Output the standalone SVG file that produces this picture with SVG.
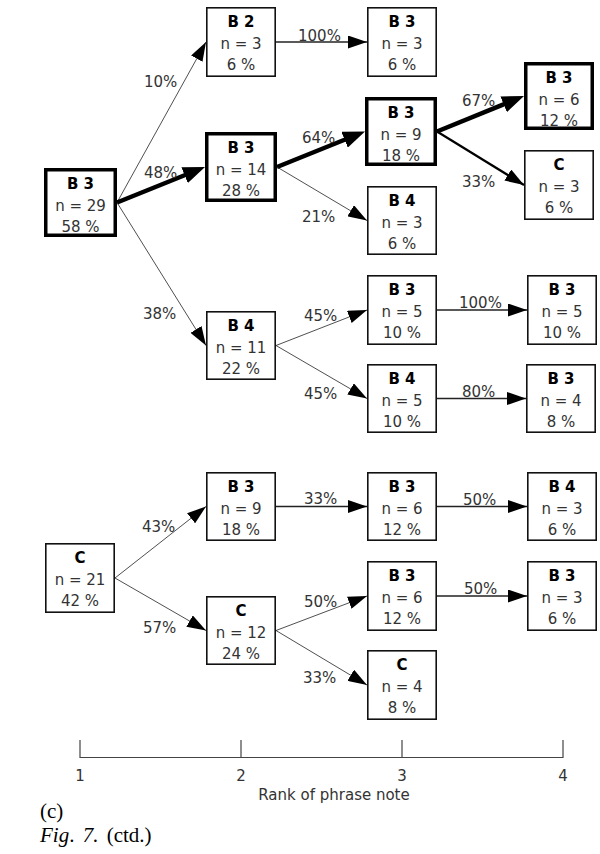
<svg xmlns="http://www.w3.org/2000/svg" width="600" height="854" viewBox="0 0 600 854">
<style>
.box{fill:#fff;stroke:#111;stroke-width:1.6}
.bold{fill:#fff;stroke:#000;stroke-width:3.5}
.t{font-family:"DejaVu Sans",sans-serif;font-size:15px;fill:#333;text-anchor:middle}
.h{font-family:"DejaVu Sans",sans-serif;font-size:15px;font-weight:bold;fill:#000;text-anchor:middle}
.l{font-family:"DejaVu Sans",sans-serif;font-size:15px;fill:#333}
.e{stroke:#222;stroke-width:0.8;fill:none;marker-end:url(#a)}
.eh{stroke:#222;stroke-width:1.3;fill:none;marker-end:url(#a)}
.em{stroke:#000;stroke-width:2.2;fill:none;marker-end:url(#a)}
.ek{stroke:#000;stroke-width:4.5;fill:none;marker-end:url(#b)}
.ax{stroke:#444;stroke-width:1.2;fill:none}
.cap{font-family:"Liberation Serif",serif;font-size:21px;fill:#000}
</style>
<defs>
<marker id="a" markerUnits="userSpaceOnUse" markerWidth="19" markerHeight="13" refX="19" refY="6.5" orient="auto"><path d="M0,0 L19,6.5 L0,13 z" fill="#000"/></marker>
<marker id="b" markerUnits="userSpaceOnUse" markerWidth="22" markerHeight="17" refX="12" refY="8.5" orient="auto"><path d="M0,0 L22,8.5 L0,17 z" fill="#000"/></marker>
</defs>
<g id="connectors">
<path class="e" d="M117,202.5 L206,42"/>
<path class="ek" d="M117,202.5 L195.73,170.74"/>
<path class="e" d="M117,202.5 L206,345.5"/>
<path class="eh" d="M276,42 L367,42"/>
<path class="ek" d="M277,167 L355.73,135.24"/>
<path class="e" d="M277,167 L367,220.5"/>
<path class="ek" d="M437,131.5 L514.74,99.78"/>
<path class="em" d="M437,131.5 L524,185"/>
<path class="e" d="M276,345.5 L367,310"/>
<path class="e" d="M276,345.5 L367,398.5"/>
<path class="eh" d="M437,310 L527,310"/>
<path class="eh" d="M437,398.5 L526,398.5"/>
<path class="e" d="M115,578 L206,506.5"/>
<path class="e" d="M115,578 L206,630.5"/>
<path class="eh" d="M276,506.5 L367,506.5"/>
<path class="e" d="M276,630.5 L367,596"/>
<path class="e" d="M276,630.5 L367,685"/>
<path class="eh" d="M437,506.5 L527,506.5"/>
<path class="eh" d="M437,596 L527,596"/>
</g>
<g id="edge-labels">
<text class="l" x="144" y="87">10%</text>
<text class="l" x="144" y="178">48%</text>
<text class="l" x="143" y="319">38%</text>
<text class="l" x="298" y="41">100%</text>
<text class="l" x="302" y="143">64%</text>
<text class="l" x="302" y="222">21%</text>
<text class="l" x="462" y="106">67%</text>
<text class="l" x="462" y="187">33%</text>
<text class="l" x="304" y="321">45%</text>
<text class="l" x="304" y="399">45%</text>
<text class="l" x="459" y="308">100%</text>
<text class="l" x="462" y="397">80%</text>
<text class="l" x="142" y="532">43%</text>
<text class="l" x="143" y="633">57%</text>
<text class="l" x="304" y="504">33%</text>
<text class="l" x="304" y="607">50%</text>
<text class="l" x="303" y="683">33%</text>
<text class="l" x="463" y="505">50%</text>
<text class="l" x="464" y="594">50%</text>
</g>
<g id="n-root"><rect class="bold" x="45.75" y="169.75" width="69.5" height="65.5"/><text class="h" x="80.5" y="189">B 3</text><text class="t" x="80.5" y="211">n = 29</text><text class="t" x="80.5" y="232">58 %</text></g>
<g id="n-b2"><rect class="box" x="206.8" y="7.8" width="68.4" height="68.4"/><text class="h" x="241" y="27">B 2</text><text class="t" x="241" y="49">n = 3</text><text class="t" x="241" y="70">6 %</text></g>
<g id="n-b3a"><rect class="box" x="367.8" y="7.8" width="68.4" height="68.4"/><text class="h" x="402" y="27">B 3</text><text class="t" x="402" y="49">n = 3</text><text class="t" x="402" y="70">6 %</text></g>
<g id="n-b3b"><rect class="bold" x="206.75" y="133.75" width="68.5" height="66.5"/><text class="h" x="241" y="153">B 3</text><text class="t" x="241" y="175">n = 14</text><text class="t" x="241" y="196">28 %</text></g>
<g id="n-b3c"><rect class="bold" x="366.75" y="98.75" width="68.5" height="65.5"/><text class="h" x="401" y="118">B 3</text><text class="t" x="401" y="140">n = 9</text><text class="t" x="401" y="161">18 %</text></g>
<g id="n-b4a"><rect class="box" x="367.8" y="186.8" width="68.4" height="67.4"/><text class="h" x="402" y="206">B 4</text><text class="t" x="402" y="228">n = 3</text><text class="t" x="402" y="249">6 %</text></g>
<g id="n-b3d"><rect class="bold" x="525.75" y="63.75" width="66.5" height="64.5"/><text class="h" x="559" y="83">B 3</text><text class="t" x="559" y="105">n = 6</text><text class="t" x="559" y="126">12 %</text></g>
<g id="n-ca"><rect class="box" x="524.8" y="150.8" width="68.4" height="68.4"/><text class="h" x="559" y="170">C</text><text class="t" x="559" y="192">n = 3</text><text class="t" x="559" y="213">6 %</text></g>
<g id="n-b4b"><rect class="box" x="206.8" y="311.8" width="68.4" height="67.4"/><text class="h" x="241" y="331">B 4</text><text class="t" x="241" y="353">n = 11</text><text class="t" x="241" y="374">22 %</text></g>
<g id="n-b3e"><rect class="box" x="367.8" y="275.8" width="68.4" height="68.4"/><text class="h" x="402" y="295">B 3</text><text class="t" x="402" y="317">n = 5</text><text class="t" x="402" y="338">10 %</text></g>
<g id="n-b3f"><rect class="box" x="527.8" y="275.8" width="68.4" height="68.4"/><text class="h" x="562" y="295">B 3</text><text class="t" x="562" y="317">n = 5</text><text class="t" x="562" y="338">10 %</text></g>
<g id="n-b4c"><rect class="box" x="367.8" y="364.8" width="68.4" height="67.4"/><text class="h" x="402" y="384">B 4</text><text class="t" x="402" y="406">n = 5</text><text class="t" x="402" y="427">10 %</text></g>
<g id="n-b3g"><rect class="box" x="526.8" y="364.8" width="68.4" height="67.4"/><text class="h" x="561" y="384">B 3</text><text class="t" x="561" y="406">n = 4</text><text class="t" x="561" y="427">8 %</text></g>
<g id="n-croot"><rect class="box" x="45.8" y="543.8" width="68.4" height="68.4"/><text class="h" x="80" y="563">C</text><text class="t" x="80" y="585">n = 21</text><text class="t" x="80" y="606">42 %</text></g>
<g id="n-b3h"><rect class="box" x="206.8" y="472.8" width="68.4" height="67.4"/><text class="h" x="241" y="492">B 3</text><text class="t" x="241" y="514">n = 9</text><text class="t" x="241" y="535">18 %</text></g>
<g id="n-cb"><rect class="box" x="206.8" y="596.8" width="68.4" height="67.4"/><text class="h" x="241" y="616">C</text><text class="t" x="241" y="638">n = 12</text><text class="t" x="241" y="659">24 %</text></g>
<g id="n-b3i"><rect class="box" x="367.8" y="472.8" width="68.4" height="67.4"/><text class="h" x="402" y="492">B 3</text><text class="t" x="402" y="514">n = 6</text><text class="t" x="402" y="535">12 %</text></g>
<g id="n-b4d"><rect class="box" x="527.8" y="472.8" width="68.4" height="67.4"/><text class="h" x="562" y="492">B 4</text><text class="t" x="562" y="514">n = 3</text><text class="t" x="562" y="535">6 %</text></g>
<g id="n-b3j"><rect class="box" x="367.8" y="561.8" width="68.4" height="68.4"/><text class="h" x="402" y="581">B 3</text><text class="t" x="402" y="603">n = 6</text><text class="t" x="402" y="624">12 %</text></g>
<g id="n-b3k"><rect class="box" x="527.8" y="561.8" width="68.4" height="68.4"/><text class="h" x="562" y="581">B 3</text><text class="t" x="562" y="603">n = 3</text><text class="t" x="562" y="624">6 %</text></g>
<g id="n-cc"><rect class="box" x="367.8" y="650.8" width="68.4" height="68.4"/><text class="h" x="402" y="670">C</text><text class="t" x="402" y="692">n = 4</text><text class="t" x="402" y="713">8 %</text></g>
<g id="axis">
<path class="ax" d="M80,740 V757.5 H563 V740 M241,740 V757.5 M402,740 V757.5"/>
<text class="t" x="80" y="781">1</text>
<text class="t" x="241" y="781">2</text>
<text class="t" x="402" y="781">3</text>
<text class="t" x="563" y="781">4</text>
<text class="t" x="334" y="800">Rank of phrase note</text>
</g>
<text class="cap" x="40" y="818">(c)</text>
<text class="cap" x="40" y="842" word-spacing="3"><tspan font-style="italic">Fig</tspan>. <tspan font-style="italic">7.</tspan> (ctd.)</text>
</svg>
